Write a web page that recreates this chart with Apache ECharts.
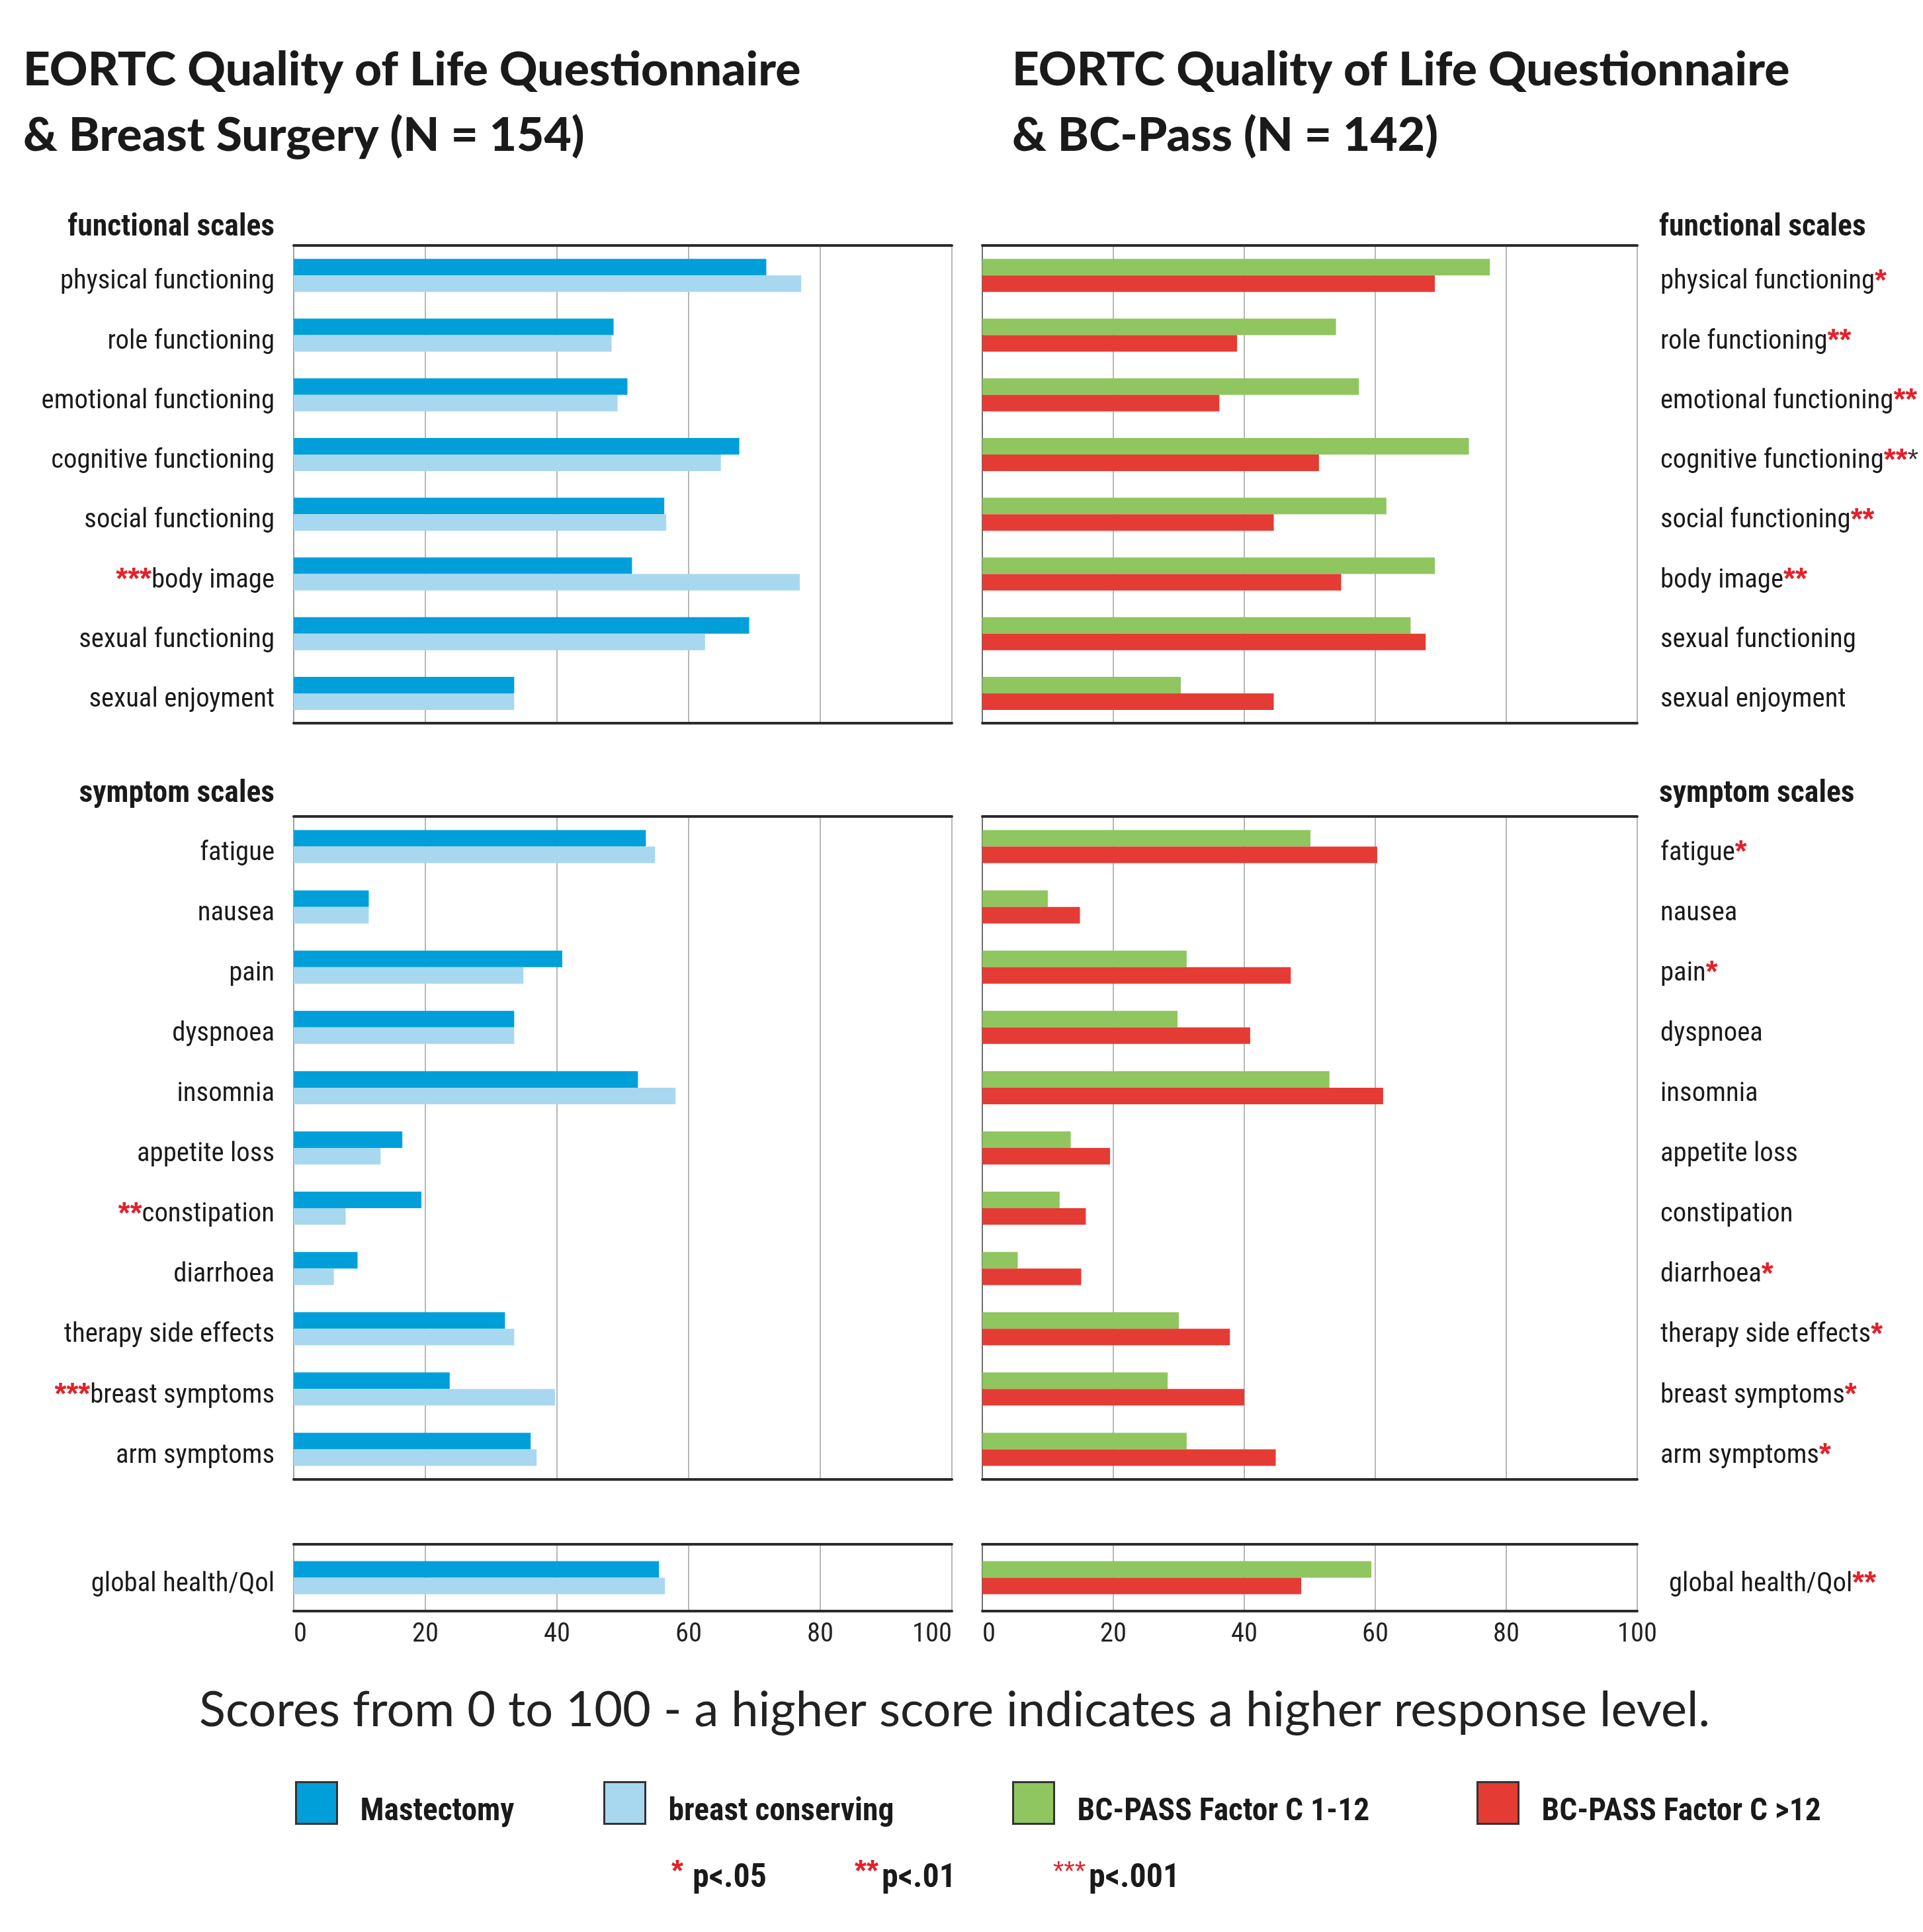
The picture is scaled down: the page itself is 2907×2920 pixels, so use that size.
<!DOCTYPE html>
<html>
<head>
<meta charset="utf-8">
<script src="https://cdn.jsdelivr.net/npm/echarts@6/dist/echarts.min.js"></script>
<style>
html,body{margin:0;padding:0;background:#fff;}
#c{width:2907px;height:2920px;}
</style>
</head>
<body>
<div id="c"></div>
<script>
// ---------- data ----------
const funcCats = ['physical functioning','role functioning','emotional functioning','cognitive functioning','social functioning','body image','sexual functioning','sexual enjoyment'];
const sympCats = ['fatigue','nausea','pain','dyspnoea','insomnia','appetite loss','constipation','diarrhoea','therapy side effects','breast symptoms','arm symptoms'];
const globCats = ['global health/Qol'];

// significance markers ('^' splits red part from black part)
const funcSigLeft  = ['','','','','','***','',''];
const funcSigRight = ['*','**','**','**^*','**','**','',''];
const sympSigLeft  = ['','','','','','','**','','','***',''];
const sympSigRight = ['*','','*','','','','','*','*','*','*'];
const globSigLeft  = [''];
const globSigRight = ['**'];

const mastFunc = [71.8, 48.6, 50.7, 67.7, 56.3, 51.4, 69.2, 33.5];
const bcFunc   = [77.1, 48.3, 49.2, 64.9, 56.6, 76.9, 62.5, 33.5];
const lowFunc  = [77.5, 54.0, 57.5, 74.3, 61.7, 69.1, 65.4, 30.3];
const highFunc = [69.1, 38.9, 36.2, 51.4, 44.5, 54.8, 67.7, 44.5];

const mastSymp = [53.5, 11.4, 40.8, 33.5, 52.3, 16.5, 19.4, 9.7, 32.1, 23.7, 36.0];
const bcSymp   = [54.9, 11.4, 34.9, 33.5, 58.0, 13.2, 7.9, 6.1, 33.5, 39.7, 36.9];
const lowSymp  = [50.1, 10.0, 31.2, 29.8, 53.0, 13.5, 11.8, 5.4, 30.0, 28.3, 31.2];
const highSymp = [60.3, 14.9, 47.1, 40.9, 61.2, 19.5, 15.8, 15.1, 37.8, 40.0, 44.8];

const mastGlob = [55.5];
const bcGlob   = [56.4];
const lowGlob  = [59.4];
const highGlob = [48.7];

const seriesNames = ['Mastectomy','breast conserving','BC-PASS Factor C 1-12','BC-PASS Factor C >12'];
const tickMin = 0, tickMax = 100, tickStep = 20;

// ---------- font selection / sizing ----------
const cv = document.createElement('canvas').getContext('2d');
function measure(text, font){ cv.font = font; return cv.measureText(text).width; }
function hasFont(name){
  const t = 'abcdefghijklmnopqrstuvwxyz ABCDEFG 0123456789';
  const fbs = ['monospace','serif'];
  for (let i = 0; i < fbs.length; i++){
    if (Math.abs(measure(t, '40px ' + fbs[i]) - measure(t, '40px "' + name + '", ' + fbs[i])) > 0.5) return true;
  }
  return false;
}
const narrowCandidates = ['Liberation Sans Narrow','Roboto Condensed','DejaVu Sans Condensed','Noto Sans Condensed','Open Sans Condensed','Arial Narrow','Roboto'];
let NARROW_NAME = 'Roboto';
for (let i = 0; i < narrowCandidates.length; i++){ if (hasFont(narrowCandidates[i])){ NARROW_NAME = narrowCandidates[i]; break; } }
const NARROW = '"' + NARROW_NAME + '", Roboto, sans-serif';
function fitSize(text, weight, base, target){
  const w = measure(text, weight + ' ' + base + 'px ' + NARROW);
  return Math.round(base * target / w * 10) / 10;
}
const labelSize = fitSize('physical functioning', 'normal', 46, 324);
const hdrSize   = fitSize('functional scales', 'bold', 47, 313);
const legSize   = fitSize('Mastectomy', 'bold', 48, 233);
const pSize     = fitSize('p<.05', 'bold', 50, 112);
const tickSize  = Math.min(46, fitSize('100', 'normal', 42, 60));
const TITLE_FAMILY = "Lato, 'Liberation Sans', sans-serif";
cv.font = '900 75px ' + TITLE_FAMILY;
const titleSize = Math.round(75 * 1175 / cv.measureText('EORTC Quality of Life Questionnaire').width * 10) / 10;

// ---------- styling ----------
const COLORS = {'Mastectomy':'#009fda','breast conserving':'#a8d8ef','BC-PASS Factor C 1-12':'#8fc65f','BC-PASS Factor C >12':'#e53b35'};
const RED = '#e4202a';
const DARK = '#222222';

const gridDefs = [
  {left:444,  top:371,  width:995, height:722},  // left functional
  {left:1485, top:371,  width:990, height:722},  // right functional
  {left:444,  top:1234, width:995, height:1002}, // left symptom
  {left:1485, top:1234, width:990, height:1002}, // right symptom
  {left:444,  top:2334, width:995, height:101},  // left global
  {left:1485, top:2334, width:990, height:101}   // right global
].map(function(g){ return Object.assign({outerBoundsMode:'none', containLabel:false}, g); });

function makeFmt(sigs, side){
  return function(value, idx){
    const s = sigs[idx] || '';
    let red = s, blk = '';
    if (s.indexOf('^') >= 0){ const p = s.split('^'); red = p[0]; blk = p[1]; }
    const stars = (red ? '{a|' + red + '}' : '') + (blk ? '{k|' + blk + '}' : '');
    return side === 'left' ? stars + '{l|' + value + '}' : '{l|' + value + '}' + stars;
  };
}
const richLabel = {
  l: {fontFamily: NARROW, fontSize: labelSize, color: '#1a1a1a'},
  a: {fontFamily: "'Liberation Sans',sans-serif", fontWeight: 'bold', fontSize: 46, color: RED},
  k: {fontFamily: "'Liberation Sans',sans-serif", fontSize: 42, color: '#333'}
};

const xAxes = [], yAxes = [], series = [];
const panels = [
  {cats: funcCats, sig: funcSigLeft,  side:'left',  a: mastFunc, b: bcFunc,  names:[0,1]},
  {cats: funcCats, sig: funcSigRight, side:'right', a: lowFunc,  b: highFunc, names:[2,3]},
  {cats: sympCats, sig: sympSigLeft,  side:'left',  a: mastSymp, b: bcSymp,  names:[0,1]},
  {cats: sympCats, sig: sympSigRight, side:'right', a: lowSymp,  b: highSymp, names:[2,3]},
  {cats: globCats, sig: globSigLeft,  side:'left',  a: mastGlob, b: bcGlob,  names:[0,1]},
  {cats: globCats, sig: globSigRight, side:'right', a: lowGlob,  b: highGlob, names:[2,3]}
];

panels.forEach(function(p, i){
  const isGlobal = i >= 4;
  const isRight = p.side === 'right';
  const splitColors = isRight
    ? ['#4a4a4a','#a6a6a6','#a6a6a6','#a6a6a6','#a6a6a6','#a6a6a6']
    : ['#8a8a8a','#a6a6a6','#a6a6a6','#a6a6a6','#a6a6a6','#a6a6a6'];
  xAxes.push({
    type:'value', gridIndex:i, position:'bottom', min:tickMin, max:tickMax, interval:tickStep,
    axisLine:{show:true, onZero:false, lineStyle:{color:'#2b2b2b', width:4}},
    axisTick:{show:false},
    axisLabel:{show:isGlobal, margin:15, fontFamily:NARROW, fontSize:tickSize, color:DARK,
               alignMinLabel:'left', alignMaxLabel: isRight ? 'center' : 'right'},
    splitLine:{show:true, lineStyle:{color:splitColors, width:1.6}}
  });
  xAxes.push({
    type:'value', gridIndex:i, position:'top', min:tickMin, max:tickMax, interval:tickStep,
    axisLine:{show:true, onZero:false, lineStyle:{color:'#2b2b2b', width:4}},
    axisTick:{show:false}, axisLabel:{show:false}, splitLine:{show:false}
  });
  yAxes.push({
    type:'category', gridIndex:i, data:p.cats, inverse:true, position: p.side,
    axisLine:{show:false}, axisTick:{show:false}, splitLine:{show:false},
    axisLabel:{
      margin: isRight ? (isGlobal ? 48 : 35) : 29,
      padding:[20,0,0,0],
      formatter: makeFmt(p.sig, p.side),
      rich: richLabel
    }
  });
  [p.a, p.b].forEach(function(arr, k){
    const nm = seriesNames[p.names[k]];
    series.push({
      type:'bar', name:nm, xAxisIndex:i*2, yAxisIndex:i, data:arr,
      barWidth:25, barGap:'0%',
      itemStyle:{color:COLORS[nm]},
      silent:true, animation:false
    });
  });
});

const legendPos = [441, 907, 1525, 2227];
const legends = seriesNames.map(function(nm, i){
  return {
    data:[nm], left:legendPos[i], top:2687, orient:'horizontal',
    icon:'rect', itemWidth:62, itemHeight:63,
    itemStyle:{borderColor:'#333', borderWidth:3},
    selectedMode:false,
    formatter:'{t|{name}}',
    textStyle:{
      fontFamily:NARROW, fontWeight:'bold', fontSize:legSize, color:'#1a1a1a',
      rich:{t:{fontFamily:NARROW, fontWeight:'bold', fontSize:legSize, color:'#1a1a1a', padding:[28,0,0,30]}}
    }
  };
});

function txt(text, x, y, align, font){
  return {
    type:'text', x:x, y:y,
    style:Object.assign({text:text, align:align, verticalAlign:'middle', textAlign:align, textVerticalAlign:'middle', fill:'#1a1a1a'}, font)
  };
}
const hdrFont = {fontFamily:NARROW, fontWeight:'bold', fontSize:hdrSize};
const pFont = {fontFamily:NARROW, fontWeight:'bold', fontSize:pSize};
const starFont = {fontFamily:"'Liberation Sans',sans-serif", fontWeight:'bold', fontSize:46, fill:RED};
const starThin = {fontFamily:"'Liberation Sans',sans-serif", fontWeight:'normal', fontSize:42, fill:RED};

const graphics = [
  txt('functional scales', 415, 345, 'right', hdrFont),
  txt('functional scales', 2508, 345, 'left', hdrFont),
  txt('symptom scales', 415, 1201, 'right', hdrFont),
  txt('symptom scales', 2508, 1201, 'left', hdrFont),
  txt('Scores from 0 to 100 - a higher score indicates a higher response level.', 1443, 2585, 'center',
      {fontFamily:"Lato,'Liberation Sans',sans-serif", fontSize:74, fill:'#222'}),
  txt('*', 1015, 2830, 'left', starFont),
  txt('p<.05', 1047, 2840, 'left', pFont),
  txt('**', 1292, 2830, 'left', starFont),
  txt('p<.01', 1333, 2840, 'left', pFont),
  txt('***', 1592, 2830, 'left', starThin),
  txt('p<.001', 1646, 2840, 'left', pFont)
];

const titleStyle = {fontFamily:TITLE_FAMILY, fontWeight:900, fontSize:titleSize, lineHeight:99, color:'#1a1a1a'};
const option = {
  backgroundColor:'#ffffff',
  animation:false,
  title:[
    {text:'EORTC Quality of Life Questionnaire\n& Breast Surgery (N = 154)', left:30, top:52, textStyle:titleStyle},
    {text:'EORTC Quality of Life Questionnaire\n& BC-Pass (N = 142)', left:1525, top:52, textStyle:titleStyle}
  ],
  grid: gridDefs,
  xAxis: xAxes,
  yAxis: yAxes,
  series: series,
  legend: legends,
  graphic: graphics
};
const chart = echarts.init(document.getElementById('c'), null, {renderer:'canvas'});
chart.setOption(option);
</script>
</body>
</html>
